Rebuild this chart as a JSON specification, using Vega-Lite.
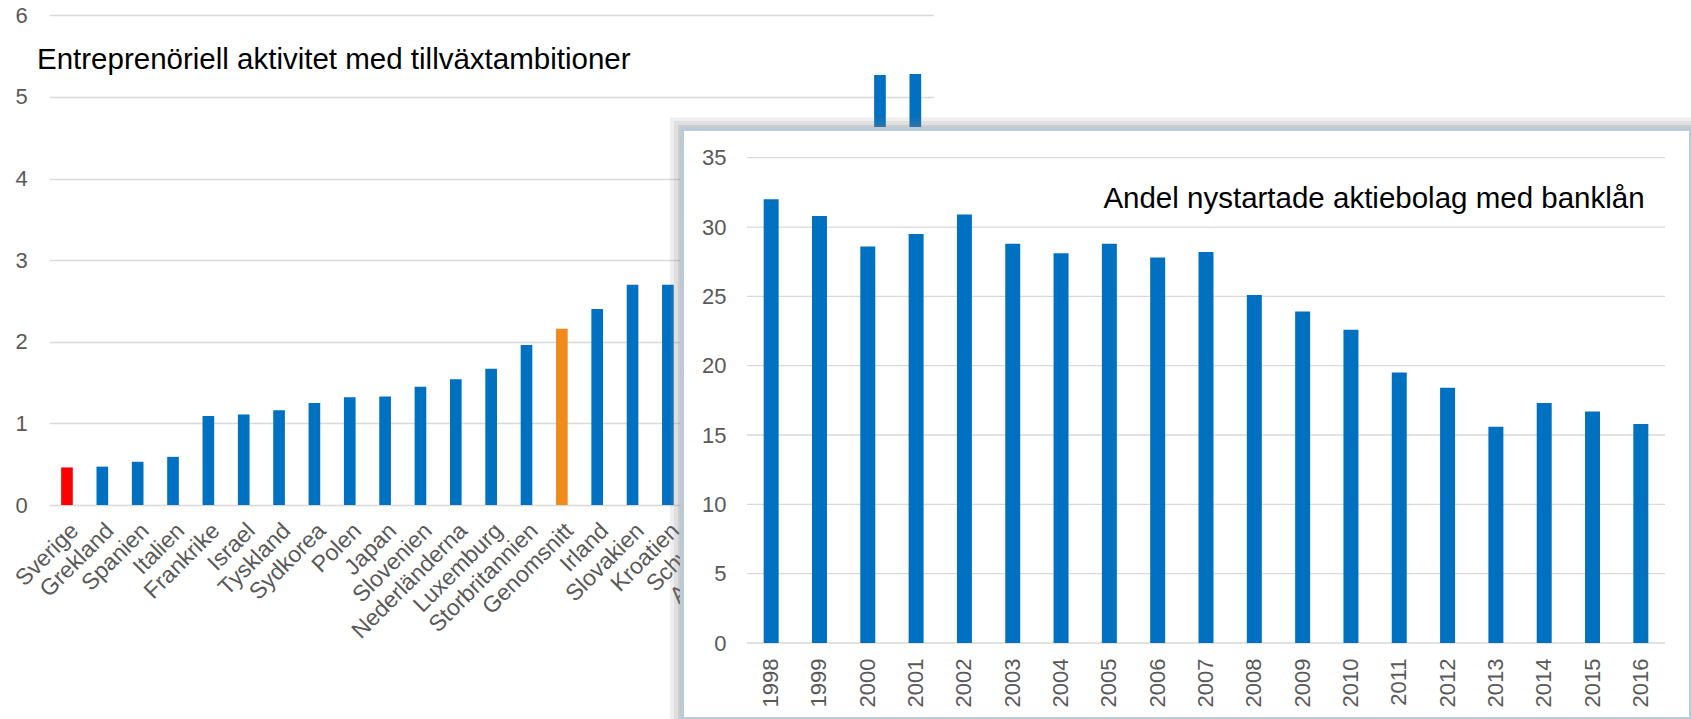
{
  "$schema": "https://vega.github.io/schema/vega-lite/v6.json",
  "width": 1691,
  "height": 719,
  "padding": 0,
  "autosize": {"type": "none"},
  "background": "white",
  "config": {
    "view": {"stroke": null},
    "font": "Liberation Sans",
    "axis": {"labelFont": "Liberation Sans", "labelColor": "#595959", "grid": false, "domain": false}
  },
  "title": {"text": "Entreprenöriell aktivitet med tillväxtambitioner", "anchor": "start", "frame": "group", "offset": -75, "dx": 37, "fontSize": 29.5, "fontWeight": "normal", "color": "#000000", "font": "Liberation Sans"},
  "layer": [
    {
      "data": {"values": [
        {"land": "Sverige", "varde": 0.46, "grupp": "Sverige"},
        {"land": "Grekland", "varde": 0.47, "grupp": "Övriga"},
        {"land": "Spanien", "varde": 0.53, "grupp": "Övriga"},
        {"land": "Italien", "varde": 0.59, "grupp": "Övriga"},
        {"land": "Frankrike", "varde": 1.09, "grupp": "Övriga"},
        {"land": "Israel", "varde": 1.11, "grupp": "Övriga"},
        {"land": "Tyskland", "varde": 1.16, "grupp": "Övriga"},
        {"land": "Sydkorea", "varde": 1.25, "grupp": "Övriga"},
        {"land": "Polen", "varde": 1.32, "grupp": "Övriga"},
        {"land": "Japan", "varde": 1.33, "grupp": "Övriga"},
        {"land": "Slovenien", "varde": 1.45, "grupp": "Övriga"},
        {"land": "Nederländerna", "varde": 1.54, "grupp": "Övriga"},
        {"land": "Luxemburg", "varde": 1.67, "grupp": "Övriga"},
        {"land": "Storbritannien", "varde": 1.96, "grupp": "Övriga"},
        {"land": "Genomsnitt", "varde": 2.16, "grupp": "Genomsnitt"},
        {"land": "Irland", "varde": 2.40, "grupp": "Övriga"},
        {"land": "Slovakien", "varde": 2.70, "grupp": "Övriga"},
        {"land": "Kroatien", "varde": 2.70, "grupp": "Övriga"},
        {"land": "Schweiz", "varde": 2.85, "grupp": "Övriga"},
        {"land": "Australien", "varde": 2.95, "grupp": "Övriga"},
        {"land": "Kanada", "varde": 3.2, "grupp": "Övriga"},
        {"land": "Estland", "varde": 3.5, "grupp": "Övriga"},
        {"land": "USA", "varde": 4.3, "grupp": "Övriga"},
        {"land": "Chile", "varde": 5.27, "grupp": "Övriga"},
        {"land": "Colombia", "varde": 5.28, "grupp": "Övriga"}
      ]},
      "mark": {"type": "bar"},
      "encoding": {
        "x": {"field": "land", "type": "nominal", "sort": null,
          "scale": {"range": [49.3, 933], "paddingInner": 0.67, "paddingOuter": 0.335},
          "axis": {"title": null, "orient": "bottom", "offset": -214, "labelAngle": -45, "labelFontSize": 23, "ticks": false, "labelPadding": 14}},
        "y": {"field": "varde", "type": "quantitative",
          "scale": {"domain": [0, 6], "range": [505, 15.3], "nice": false},
          "axis": {"title": null, "orient": "left", "offset": -49.3, "values": [0, 1, 2, 3, 4, 5, 6], "tickSize": -884, "tickColor": "#d9d9d9", "tickWidth": 1.3, "labelFontSize": 22, "labelPadding": 906}},
        "color": {"field": "grupp", "type": "nominal",
          "scale": {"domain": ["Sverige", "Genomsnitt", "Övriga"], "range": ["#FF0000", "#F08A1C", "#0070C0"]},
          "legend": null}
      }
    },
    {
      "data": {"values": [{}]},
      "layer": [
        {
          "mark": {"type": "rect", "color": "#7f7f7f", "opacity": 0.12},
          "encoding": {
            "x": {"datum": -0.012, "scale": {"domain": [0, 1], "range": [682, 1691]}, "axis": null},
            "x2": {"datum": 1},
            "y": {"datum": -0.02, "scale": {"domain": [0, 1], "range": [129, 719]}, "axis": null},
            "y2": {"datum": 1}
          }
        },
        {
          "mark": {"type": "rect", "color": "#7f7f7f", "opacity": 0.14},
          "encoding": {
            "x": {"datum": -0.008, "axis": null},
            "x2": {"datum": 1},
            "y": {"datum": -0.0136, "axis": null},
            "y2": {"datum": 1}
          }
        },
        {
          "mark": {"type": "rect", "color": "#7f7f7f", "opacity": 0.18},
          "encoding": {
            "x": {"datum": -0.004, "axis": null},
            "x2": {"datum": 1},
            "y": {"datum": -0.0068, "axis": null},
            "y2": {"datum": 1}
          }
        },
        {
          "mark": {"type": "rect", "fill": "#ffffff", "stroke": "#bccad8", "strokeWidth": 4},
          "encoding": {
            "x": {"datum": 0, "axis": null},
            "x2": {"datum": 1},
            "y": {"datum": 0, "axis": null},
            "y2": {"datum": 1}
          }
        },
        {
          "mark": {"type": "text", "align": "right", "baseline": "middle", "fontSize": 29.5, "font": "Liberation Sans", "color": "#000000"},
          "encoding": {
            "x": {"datum": 0.954, "axis": null},
            "y": {"datum": 0.119, "axis": null},
            "text": {"value": "Andel nystartade aktiebolag med banklån"}
          }
        }
      ]
    },
    {
      "data": {"values": [{"v": 0}, {"v": 5}, {"v": 10}, {"v": 15}, {"v": 20}, {"v": 25}, {"v": 30}, {"v": 35}]},
      "mark": {"type": "rule", "color": "#d9d9d9", "strokeWidth": 1.3},
      "encoding": {
        "y": {"field": "v", "type": "quantitative", "scale": {"domain": [0, 35], "range": [643, 157.7], "nice": false}, "axis": null},
        "x": {"datum": 0, "scale": {"domain": [0, 1], "range": [747, 1665]}, "axis": null},
        "x2": {"datum": 1}
      }
    },
    {
      "data": {"values": [
        {"ar": "1998", "andel": 32.0},
        {"ar": "1999", "andel": 30.8},
        {"ar": "2000", "andel": 28.6},
        {"ar": "2001", "andel": 29.5},
        {"ar": "2002", "andel": 30.9},
        {"ar": "2003", "andel": 28.8},
        {"ar": "2004", "andel": 28.1},
        {"ar": "2005", "andel": 28.8},
        {"ar": "2006", "andel": 27.8},
        {"ar": "2007", "andel": 28.2},
        {"ar": "2008", "andel": 25.1},
        {"ar": "2009", "andel": 23.9},
        {"ar": "2010", "andel": 22.6},
        {"ar": "2011", "andel": 19.5},
        {"ar": "2012", "andel": 18.4},
        {"ar": "2013", "andel": 15.6},
        {"ar": "2014", "andel": 17.3},
        {"ar": "2015", "andel": 16.7},
        {"ar": "2016", "andel": 15.8}
      ]},
      "mark": {"type": "bar", "color": "#0070C0"},
      "encoding": {
        "x": {"field": "ar", "type": "ordinal",
          "scale": {"range": [747, 1665], "paddingInner": 0.69, "paddingOuter": 0.345},
          "axis": {"title": null, "orient": "bottom", "offset": -76, "labelAngle": -90, "labelFontSize": 22, "ticks": false, "labelPadding": 15, "zindex": 1}},
        "y": {"field": "andel", "type": "quantitative",
          "scale": {"domain": [0, 35], "range": [643, 157.7], "nice": false},
          "axis": {"title": null, "orient": "left", "offset": -747, "values": [0, 5, 10, 15, 20, 25, 30, 35], "ticks": false, "labelFontSize": 22, "labelPadding": 21, "zindex": 1}}
      }
    }
  ],
  "resolve": {
    "scale": {"x": "independent", "y": "independent"},
    "axis": {"x": "independent", "y": "independent"}
  }
}
